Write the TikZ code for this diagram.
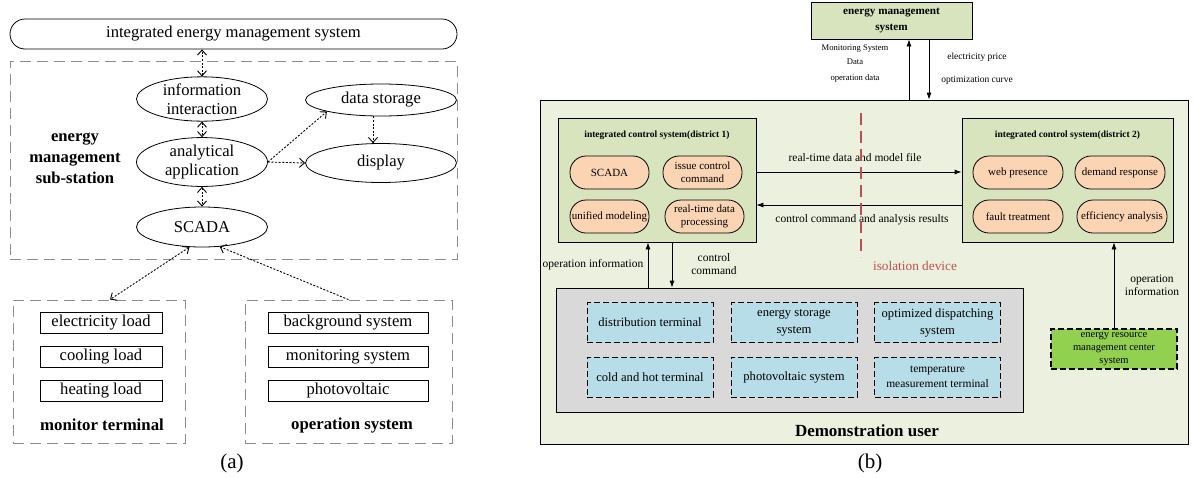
\documentclass[tikz,border=0pt]{standalone}
\usepackage{fontspec}
\setmainfont{Liberation Serif}
\usetikzlibrary{shapes.geometric,arrows.meta,positioning}
\definecolor{boxgreen}{HTML}{D7E4BD}
\definecolor{usergreen}{HTML}{EBF1DE}
\definecolor{pillorange}{HTML}{FBD4B4}
\definecolor{termblue}{HTML}{B7DDE8}
\definecolor{centergreen}{HTML}{92D050}
\definecolor{isored}{HTML}{C0504D}
\definecolor{usergray}{HTML}{D9D9D9}
\definecolor{dashgray}{HTML}{8C8C8C}
\newcommand{\fs}[2]{\fontsize{#1}{#2}\selectfont}
\begin{document}
\begin{tikzpicture}[x=1pt,y=-1pt,font=\fs{16.6}{19.5},
    ell/.style={draw,ellipse,line width=0.8pt,minimum width=131,minimum height=38,inner sep=0pt,align=center},
    graybox/.style={draw=dashgray,line width=0.9pt,dash pattern=on 11pt off 6pt},
    loadbox/.style={draw,line width=0.8pt,minimum height=21,inner sep=0pt,font=\fs{16.6}{19}},
    dotarrow/.style={line width=0.9pt,dash pattern=on 2pt off 1.6pt,{Straight Barb[length=5pt,width=9pt]}-{Straight Barb[length=5pt,width=9pt]}},
    dotone/.style={line width=0.9pt,dash pattern=on 2pt off 1.6pt,-{Straight Barb[length=5pt,width=9pt]}},
    pill/.style={draw,fill=pillorange,line width=0.8pt,rounded corners=16pt,minimum height=33,inner sep=0pt,align=center,font=\fs{11}{18}},
    term/.style={draw,fill=termblue,line width=0.9pt,dash pattern=on 6pt off 3pt,minimum width=126,minimum height=40,inner sep=0pt,align=center,font=\fs{12.6}{17}},
    arr/.style={line width=0.8pt,-{Latex[length=7pt,width=5pt]}},
    small/.style={font=\fs{8.6}{14},align=center,inner sep=0pt}]
\useasboundingbox (0,0) rectangle (1194,477);

% (a) energy management sub-station
\node[draw,line width=0.8pt,rounded corners=15pt,minimum width=447,minimum height=30,inner sep=0pt] (iems) at (233.5,34) {integrated energy management system};
\node[graybox,minimum width=447,minimum height=198] (sub) at (233.5,160) {};
\node[font=\bfseries\fs{16.6}{21},align=center] (sublabel) at (75,158) {energy\\management\\sub-station};
\node[ell,minimum height=35] (info) at (202,99) {information\\interaction};
\node[ell,minimum height=40] (app) at (202,162) {analytical\\application};
\node[ell,minimum height=40] (scadaA) at (202,227) {SCADA};
\node[ell,minimum width=151,minimum height=32] (store) at (381,100) {data storage};
\node[ell,minimum width=151,minimum height=39] (disp) at (381,163) {display};

\draw[dotarrow] (info.north) -- (info.north |- iems.south);
\draw[dotarrow] (info.south) -- (app.north);
\draw[dotarrow] (app.south) -- (scadaA.north);
\draw[dotone] (app.east) -- (store.192);
\draw[dotone] (app.east) -- (disp.west);
\draw[dotone] ([xshift=-8pt]store.south) -- ([xshift=-8pt]disp.north);

% (a) monitor terminal and operation system
\node[graybox,minimum width=172,minimum height=143] (mon) at (99,371.5) {};
\node[loadbox,minimum width=122] (elec) at (101,322.5) {electricity load};
\node[loadbox,minimum width=122] (cool) at (101,356.5) {cooling load};
\node[loadbox,minimum width=122] (heat) at (101,390.5) {heating load};
\node[font=\bfseries\fs{16.8}{19}] (monlabel) at (102,425) {monitor terminal};

\node[graybox,minimum width=207,minimum height=143] (op) at (348.5,371.5) {};
\node[loadbox,minimum width=160] (back) at (348,322.5) {background system};
\node[loadbox,minimum width=160] (moni) at (348,356.5) {monitoring system};
\node[loadbox,minimum width=160] (pv) at (348,390.5) {photovoltaic};
\node[font=\bfseries\fs{16.8}{19}] (oplabel) at (352,425) {operation system};

\draw[dotarrow] (scadaA.238) -- ([xshift=11pt]mon.north);
\draw[dotone] (op.north) -- (scadaA.312);

\node[font=\fs{21}{24}] (capa) at (232,463) {(a)};

% (b) demonstration user
\node[draw,fill=boxgreen,line width=0.8pt,minimum width=161,minimum height=37,inner sep=0pt,align=center,font=\bfseries\fs{11.2}{16}] (ems) at (891.5,20.5) {energy management\\system};
\node[draw,fill=usergreen,line width=0.8pt,minimum width=648,minimum height=344,inner sep=0pt] (user) at (864,272) {};
\node[font=\bfseries\fs{17}{18}] (userlabel) at (867,431) {Demonstration user};

\draw[arr] (user.north -| 909,0) -- (ems.south -| 909,0);
\draw[arr] (ems.south -| 929,0) -- (user.north -| 929,0);
\node[small] (monidata) at (855,63.5) {Monitoring System\\Data\\[2pt]operation data};
\node[small,font=\fs{9.5}{23}] (price) at (977,68.5) {electricity price\\optimization curve};

% district 1
\node[draw,fill=boxgreen,line width=0.8pt,minimum width=198,minimum height=124,inner sep=0pt] (dis1) at (657,180) {};
\node[font=\bfseries\fs{9.5}{10}] (dis1title) at (657,135) {integrated control system(district 1)};
\node[pill,minimum width=79] (scadaB) at (609.5,172.5) {SCADA};
\node[pill,minimum width=79,font=\fs{11}{13}] (issue) at (702.5,172.5) {issue control\\command};
\node[pill,minimum width=79] (unified) at (609.5,216.5) {unified modeling};
\node[pill,minimum width=79,font=\fs{11}{13}] (realtime) at (704.5,216.5) {real-time data\\processing};

% district 2
\node[draw,fill=boxgreen,line width=0.8pt,minimum width=211,minimum height=124,inner sep=0pt] (dis2) at (1067.5,180) {};
\node[font=\bfseries\fs{9.5}{10}] (dis2title) at (1067.5,135) {integrated control system(district 2)};
\node[pill,minimum width=90] (web) at (1018,172.5) {web presence};
\node[pill,minimum width=90] (demand) at (1120,172.5) {demand response};
\node[pill,minimum width=90] (fault) at (1018,216.5) {fault treatment};
\node[pill,minimum width=90] (effic) at (1122,216.5) {efficiency analysis};

\draw[arr] ([yshift=8pt]dis1.east) -- ([yshift=8pt]dis2.west);
\draw[arr] ([yshift=-25pt]dis2.west) -- ([yshift=-25pt]dis1.east);
\node[font=\fs{11.5}{13}] (rtlabel) at (855,158) {real-time data and model file};
\node[font=\fs{11.5}{13}] (cclabel) at (862,220) {control command and analysis results};

% isolation device
\coordinate (isotop) at (861,113);
\coordinate (isobot) at (861,257);
\draw[isored,line width=1.6pt,dash pattern=on 12pt off 6pt] (isotop) -- (isobot);
\node[text=isored,font=\fs{13.3}{14}] (isolabel) at (915,266) {isolation device};

% terminals
\node[draw,fill=usergray,line width=0.8pt,minimum width=467,minimum height=124,inner sep=0pt] (gray) at (789.5,350) {};
\node[term] (distterm) at (650,322.5) {distribution terminal};
\node[term] (storsys) at (794,322.5) {energy storage\\system};
\node[term] (optdisp) at (937.5,322.5) {optimized dispatching\\system};
\node[term] (coldhot) at (650,377) {cold and hot terminal};
\node[term] (pvsys) at (794,377) {photovoltaic system};
\node[term,font=\fs{11.5}{15}] (tempterm) at (937.5,377) {temperature\\measurement terminal};

\draw[arr] ([xshift=-9pt]dis1.south |- gray.north) -- ([xshift=-9pt]dis1.south);
\draw[arr] ([xshift=15pt]dis1.south) -- ([xshift=15pt]dis1.south |- gray.north);
\node[font=\fs{11.5}{13}] (opinfo1) at (593,265) {operation information};
\node[font=\fs{11.5}{13.5},align=center] (ctrlcmd) at (714,264) {control\\command};

% energy resource management center
\node[draw,fill=centergreen,line width=1.1pt,dash pattern=on 6pt off 3pt,minimum width=126,minimum height=40,inner sep=0pt,align=center,font=\fs{10.5}{12.8}] (erc) at (1114,349) {energy resource\\management center\\system};
\draw[arr] (erc.north) -- (erc.north |- dis2.south);
\node[font=\fs{11.5}{13},align=center] (opinfo2) at (1152,285.5) {operation\\information};

\node[font=\fs{21}{24}] (capb) at (870,463) {(b)};
\end{tikzpicture}
\end{document}
